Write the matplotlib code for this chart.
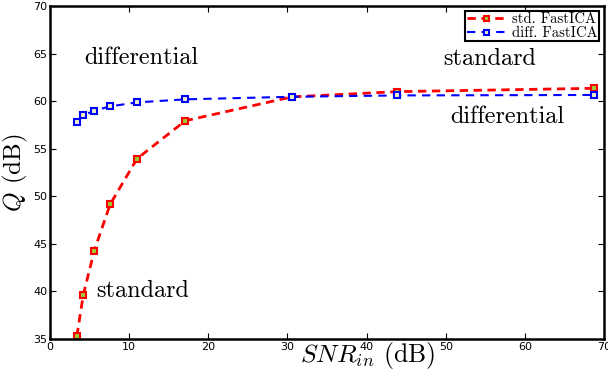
import numpy as np
import matplotlib.pyplot as plt

plt.rcParams['mathtext.fontset'] = 'cm'

# Input SNR (dB) and separation quality Q (dB)
snr = [3.4, 4.2, 5.6, 7.6, 11.0, 17.1, 30.6, 43.9, 68.8]
q_std = [35.3, 39.6, 44.3, 49.15, 53.95, 57.94, 60.45, 61.0, 61.35]
q_diff = [57.8, 58.5, 59.0, 59.45, 59.87, 60.19, 60.46, 60.6, 60.65]

fig = plt.figure(figsize=(6.08, 3.71), dpi=100)
ax = fig.add_axes([0.0822, 0.0863, 0.9112, 0.8975])

ax.plot(snr, q_std, color='red', linestyle='--', linewidth=2, dashes=(3, 2),
        marker='s', markersize=4, markeredgewidth=1.5, markeredgecolor='red',
        markerfacecolor='#9acd32', label='std. FastICA')
ax.plot(snr, q_diff, color='blue', linestyle='--', linewidth=1.5, dashes=(4, 3),
        marker='s', markersize=4, markeredgewidth=1.5, markeredgecolor='blue',
        markerfacecolor='#f0f0c0', label='diff. FastICA')

# region labels
txt = dict(family='cmr10', fontsize=17.5, ha='center', va='center')
ax.text(11.6, 64.5, 'differential', **txt)
ax.text(55.6, 64.4, 'standard', **txt)
ax.text(57.8, 58.3, 'differential', **txt)
ax.text(11.7, 40.1, 'standard', **txt)

ax.set_xlim(0, 70)
ax.set_ylim(35, 70)
ax.set_xticks(np.arange(0, 71, 10))
ax.set_yticks(np.arange(35, 71, 5))
ax.tick_params(direction='in', top=True, right=True, labelsize=8, length=4, pad=2)
for s in ax.spines.values():
    s.set_linewidth(1.8)

ax.set_xlabel(r'$SNR_{in}$ (dB)', family='cmr10', fontsize=18.5)
ax.xaxis.set_label_coords(0.574, -0.05, transform=ax.transAxes)
ax.xaxis.label.set_va('center')
ax.set_ylabel(r'$Q$ (dB)', family='cmr10', fontsize=18, labelpad=2)

leg = ax.legend(loc='upper right', prop={'family': 'cmr10', 'size': 10.5},
                fancybox=False, framealpha=1, edgecolor='black',
                borderpad=0.1, labelspacing=0.0, handlelength=2.6,
                handletextpad=0.5, borderaxespad=0.35, markerscale=0.9)
leg.get_frame().set_linewidth(1.5)

fig.savefig('out.png', dpi=100)
